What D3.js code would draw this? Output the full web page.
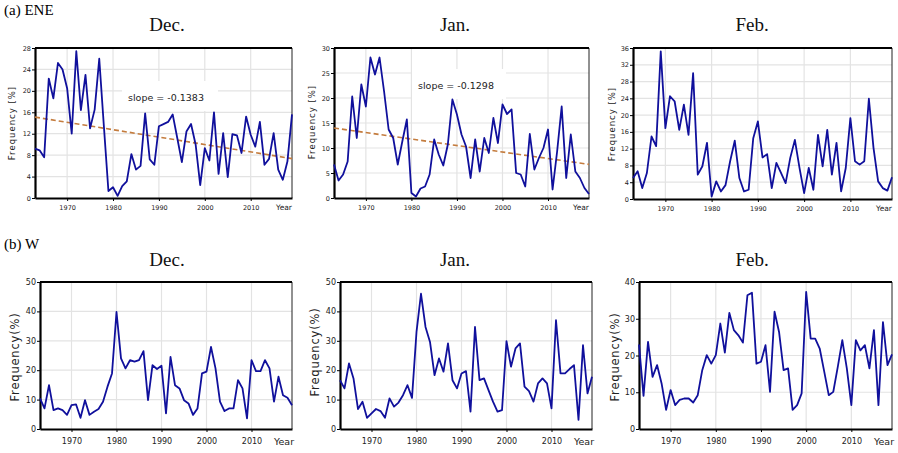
<!DOCTYPE html>
<html><head><meta charset="utf-8">
<script src="https://cdn.jsdelivr.net/npm/d3@7"></script>
<style>body{margin:0;background:#fff}svg{display:block}</style>
</head><body>
<svg id="c" width="898" height="453"></svg>
<script>
const years = d3.range(1963, 2020);
const xTicks = [1970, 1980, 1990, 2000, 2010];

const eneDec = [9.2,8.9,7.6,22.3,18.6,25.2,24.0,20.5,12.0,27.4,16.4,23.0,13.0,16.5,26.0,13.5,1.3,2.0,0.4,2.2,3.1,8.2,5.3,6.0,15.8,7.2,6.2,13.4,13.8,14.2,15.6,11.2,6.7,12.4,13.8,10.0,2.4,9.3,7.0,16.0,4.5,12.1,3.9,11.9,11.7,8.4,15.2,11.8,9.6,14.2,6.2,7.3,12.1,5.3,3.4,6.8,15.6];
const eneJan = [6.7,3.5,4.7,7.3,20.3,12.0,22.7,18.3,28.1,24.7,28.1,21.3,13.7,12.0,6.7,11.3,15.7,1.0,0.3,1.9,2.3,4.7,11.7,8.7,6.5,10.7,19.7,16.7,12.7,10.3,4.0,11.7,5.3,12.0,9.0,16.0,11.0,18.7,16.8,17.7,5.0,4.7,2.3,12.8,5.7,8.0,10.0,13.7,1.7,9.3,18.3,4.0,12.7,5.3,4.0,2.0,0.8];
const eneFeb = [5.0,6.6,2.6,6.2,14.9,12.6,35.2,16.9,24.5,23.3,16.5,22.5,15.3,30.0,5.8,7.8,13.4,0.6,4.2,1.8,3.3,9.0,13.9,5.0,1.8,2.2,14.5,18.5,9.9,10.7,2.6,8.6,6.2,3.8,9.8,14.1,7.4,1.4,7.4,2.2,15.3,7.8,16.5,5.8,13.4,1.8,7.4,19.3,9.0,8.2,9.0,23.9,12.2,4.2,2.6,2.0,5.2];
const wDec = [10.4,7.0,14.9,6.4,7.0,6.4,4.8,8.1,8.4,3.8,9.8,4.8,5.9,6.8,9.3,14.4,18.9,39.8,24.0,20.6,23.4,22.9,23.4,26.5,9.8,21.7,20.4,21.5,5.3,24.5,14.9,13.8,9.8,8.7,4.8,7.0,18.9,19.5,27.9,20.6,9.3,6.1,7.0,7.0,16.6,13.8,3.6,23.4,19.7,19.7,23.4,20.6,9.3,17.8,11.5,10.6,8.1];
const wJan = [16.6,13.8,22.3,17.2,6.8,9.3,3.8,5.3,6.8,6.1,3.8,10.4,7.6,9.0,11.5,14.9,10.6,33.0,46.0,34.7,29.6,18.3,24.0,19.5,29.1,16.6,13.8,18.9,19.7,5.9,34.7,16.6,17.2,13.2,9.3,5.9,6.4,29.9,21.2,27.4,29.1,14.4,12.9,9.3,15.5,17.2,15.5,7.0,37.0,18.9,18.9,20.4,21.7,3.1,28.5,12.1,17.8];
const wFeb = [23.0,9.0,23.7,14.2,17.4,12.4,5.2,10.6,6.5,7.9,8.3,8.3,7.2,9.2,16.0,20.1,17.8,20.1,28.7,20.8,31.6,26.9,25.5,23.5,36.4,37.1,17.8,18.3,22.8,10.1,31.9,26.4,16.0,16.5,5.2,6.5,9.7,37.3,24.6,24.6,21.9,15.6,9.2,10.1,16.9,24.2,16.5,6.5,24.2,21.4,22.8,16.5,26.9,6.5,29.1,17.4,20.3];

const eneDecTrend = {slope: -0.1383, start: 15.1};
const eneJanTrend = {slope: -0.1298, start: 14.0};

const yTicksEneDec = [0,4,8,12,16,20,24,28];
const yTicksEneJan = [0,5,10,15,20,25,30];
const yTicksEneFeb = [0,4,8,12,16,20,24,28,32,36];
const yTicksW50 = [0,10,20,30,40,50];
const yTicksW40 = [0,10,20,30,40];

const panels = [
  {data: eneDec, ticks: yTicksEneDec, ymax: 28, l:35, r:292, t:48, b:198, row:0, trend: eneDecTrend, label:{x:128,y:101,w:96}, yt:{x:15,y:123}, title:{x:167}},
  {data: eneJan, ticks: yTicksEneJan, ymax: 30, l:334, r:589, t:48, b:198, row:0, trend: eneJanTrend, label:{x:418,y:89,w:94}, yt:{x:315,y:122}, title:{x:455}},
  {data: eneFeb, ticks: yTicksEneFeb, ymax: 36, l:633, r:892, t:48, b:199, row:0, yt:{x:615,y:124}, title:{x:752}},
  {data: wDec, ticks: yTicksW50, ymax: 50, l:40, r:292, t:282, b:429, row:1, yt:{x:19,y:357}, title:{x:167}},
  {data: wJan, ticks: yTicksW50, ymax: 50, l:340, r:592, t:282, b:429, row:1, yt:{x:319,y:352}, title:{x:455}},
  {data: wFeb, ticks: yTicksW40, ymax: 40, l:639, r:892, t:282, b:429, row:1, yt:{x:619,y:357}, title:{x:752}}
];
const titles = ["Dec.", "Jan.", "Feb."];

const svg = d3.select("#c");
const serif = "'Liberation Serif','DejaVu Serif',serif";
const sans = "'DejaVu Sans','Liberation Sans',sans-serif";

svg.append("text").attr("x",4).attr("y",15).attr("font-family",serif).attr("font-size",15).text("(a) ENE");
svg.append("text").attr("x",4).attr("y",249).attr("font-family",serif).attr("font-size",15).text("(b) W");

panels.forEach((p, i) => {
  const x = d3.scaleLinear().domain([1963, 2019]).range([p.l, p.r]);
  const y = d3.scaleLinear().domain([0, p.ymax]).range([p.b, p.t]);
  const g = svg.append("g");
  const small = p.row === 0;

  svg.append("text").attr("x", p.title.x).attr("y", p.row === 0 ? 31 : 266)
    .attr("text-anchor","middle").attr("font-family",serif).attr("font-size",19).attr("fill","#111").text(titles[i % 3]);

  g.append("g").selectAll("line").data(p.ticks.filter(v => v > 0 && v < p.ymax)).join("line")
    .attr("x1", p.l).attr("x2", p.r).attr("y1", d => y(d)).attr("y2", d => y(d))
    .attr("stroke","#e3e3e3").attr("stroke-width",1.2);
  g.append("g").selectAll("line").data(xTicks).join("line")
    .attr("x1", d => x(d)).attr("x2", d => x(d)).attr("y1", p.t).attr("y2", p.b)
    .attr("stroke","#e3e3e3").attr("stroke-width",1.2);

  if (p.trend) {
    g.append("rect").attr("x", p.label.x - 6).attr("y", p.label.y - 20).attr("width", p.label.w).attr("height", 30).attr("fill","#fff");
  }

  g.append("line").attr("x1",p.r).attr("x2",p.r).attr("y1",p.t).attr("y2",p.b).attr("stroke","#222").attr("stroke-width",1);
  g.append("line").attr("x1",p.l).attr("x2",p.r).attr("y1",p.t).attr("y2",p.t).attr("stroke","#000").attr("stroke-width",2.2);

  const ya = d3.axisLeft(y).tickValues(p.ticks).tickSize(3).tickSizeOuter(0);
  const yg = g.append("g").attr("transform",`translate(${p.l},0)`).call(ya);
  yg.select(".domain").attr("stroke-width",2.2).attr("stroke","#000");
  yg.selectAll("text").attr("font-family",sans).attr("font-size", small ? 6.5 : 8).attr("fill","#222").attr("x",-4);
  const xa = d3.axisBottom(x).tickValues(xTicks).tickFormat(d3.format("d")).tickSize(3).tickSizeOuter(0);
  const xg = g.append("g").attr("transform",`translate(0,${p.b})`).call(xa);
  xg.select(".domain").attr("stroke-width",2.2).attr("stroke","#000");
  xg.selectAll("text").attr("font-family",sans).attr("font-size", small ? 6.5 : 8).attr("fill","#222").attr("dy", small ? "0.9em" : "1.1em");
  g.append("text").attr("x", p.r - 8).attr("y", p.b + (small ? 12 : 16)).attr("text-anchor","middle")
    .attr("font-family",sans).attr("font-size", small ? 7.5 : 9.5).attr("fill","#222").text("Year");

  g.append("text").attr("transform",`translate(${p.yt.x},${p.yt.y}) rotate(-90)`).attr("text-anchor","middle")
    .attr("font-family",sans).attr("font-size", small ? 8.5 : 11.5).attr("letter-spacing", small ? 1 : 0.8).attr("fill","#222")
    .text(small ? "Frequency [%]" : "Frequency(%)");

  if (p.trend) {
    const tr = [1963, 2019].map(yr => [yr, p.trend.start + p.trend.slope * (yr - 1963)]);
    g.append("path").datum(tr).attr("fill","none").attr("stroke","#c47c3e").attr("stroke-width",1.6)
      .attr("stroke-dasharray","5,3").attr("d", d3.line().x(d => x(d[0])).y(d => y(d[1])));
    g.append("text").attr("x", p.label.x).attr("y", p.label.y).attr("font-family",sans).attr("font-size",9.5).attr("fill","#222")
      .text("slope = " + p.trend.slope.toFixed(4));
  }

  g.append("path").datum(p.data.map((v, k) => [years[k], v])).attr("fill","none").attr("stroke","#10109c")
    .attr("stroke-width",1.8).attr("stroke-linejoin","round")
    .attr("d", d3.line().x(d => x(d[0])).y(d => y(d[1])));
});
</script>
</body></html>
